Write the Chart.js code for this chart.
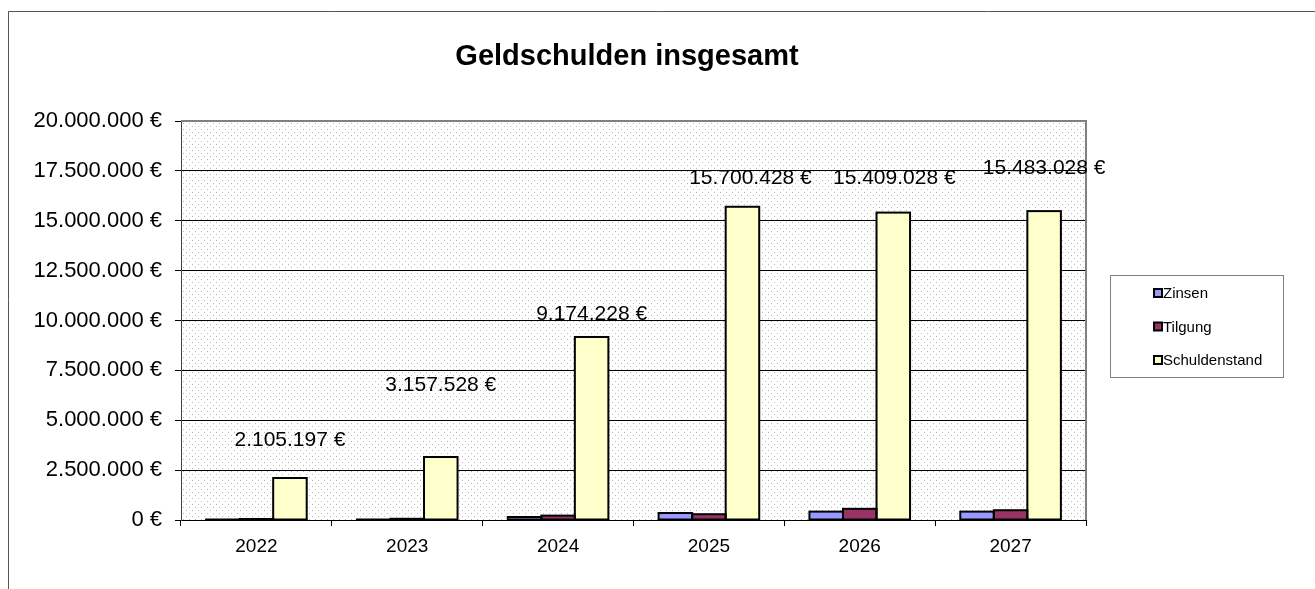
<!DOCTYPE html>
<html>
<head>
<meta charset="utf-8">
<script src="https://cdn.jsdelivr.net/npm/chart.js@4.4.0/dist/chart.umd.min.js"></script>
<style>
  html, body { margin: 0; padding: 0; background: #fff; }
  #wrap { width: 1315px; height: 589px; position: relative; }
</style>
</head>
<body>
<div id="wrap"><canvas id="myChart" width="1315" height="589"></canvas></div>
<script>
const years = ['2022', '2023', '2024', '2025', '2026', '2027'];
const zinsen = [15000, 20000, 150000, 350000, 420000, 420000];
const tilgung = [50000, 60000, 220000, 290000, 560000, 490000];
const schuldenstand = [2105197, 3157528, 9174228, 15700428, 15409028, 15483028];
const yTicks = [0, 2500000, 5000000, 7500000, 10000000, 12500000, 15000000, 17500000, 20000000];
// how far each value label sits above its bar (labels were moved by hand in the original)
const labelLift = [38, 72, 23, 29, 34, 43];
const labelShift = [0, 0, 0, 8, 1, 0];

const fontName = '"Liberation Sans", Arial, sans-serif';

function euro(v) {
    return v.toLocaleString('de-DE') + ' €';
}

function dotPattern(ctx) {
    const c = document.createElement('canvas');
    c.width = 6; c.height = 6;
    const p = c.getContext('2d');
    p.fillStyle = '#ffffff';
    p.fillRect(0, 0, 6, 6);
    p.fillStyle = '#b8b8b8';
    p.fillRect(0, 0, 1, 1);
    p.fillRect(3, 3, 1, 1);
    return ctx.createPattern(c, 'repeat');
}

const decorPlugin = {
    id: 'decor',
    beforeDraw(chart) {
        const ctx = chart.ctx;
        const a = chart.chartArea;
        ctx.save();
        // outer frame
        ctx.strokeStyle = '#555';
        ctx.lineWidth = 1;
        ctx.beginPath();
        ctx.moveTo(8.5, 589);
        ctx.lineTo(8.5, 11.5);
        ctx.lineTo(1315, 11.5);
        ctx.stroke();
        // plot background
        ctx.fillStyle = dotPattern(ctx);
        ctx.fillRect(a.left, a.top, a.right - a.left, a.bottom - a.top);
        // title
        ctx.fillStyle = '#000';
        ctx.font = 'bold 29px ' + fontName;
        ctx.textAlign = 'center';
        ctx.textBaseline = 'middle';
        ctx.fillText('Geldschulden insgesamt', 627, 57);
        ctx.restore();
    },
    afterDatasetsDraw(chart) {
        const ctx = chart.ctx;
        const a = chart.chartArea;
        ctx.save();
        // excel style outlines: 2px centred on the bar edges
        ctx.strokeStyle = '#000';
        ctx.lineWidth = 2;
        chart.data.datasets.forEach((ds, di) => {
            chart.getDatasetMeta(di).data.forEach(bar => {
                const left = bar.x - bar.width / 2;
                ctx.strokeRect(left, bar.y, bar.width, bar.base - bar.y);
            });
        });
        // plot border top / right
        ctx.strokeStyle = '#808080';
        ctx.lineWidth = 2;
        ctx.beginPath();
        ctx.moveTo(a.left, a.top);
        ctx.lineTo(a.right, a.top);
        ctx.lineTo(a.right, a.bottom);
        ctx.stroke();
        // value labels for Schuldenstand
        const meta = chart.getDatasetMeta(2);
        ctx.fillStyle = '#000';
        ctx.font = '21px ' + fontName;
        ctx.textAlign = 'center';
        ctx.textBaseline = 'middle';
        meta.data.forEach((bar, i) => {
            ctx.fillText(euro(schuldenstand[i]), bar.x + labelShift[i], bar.y - labelLift[i]);
        });
        // legend
        ctx.strokeStyle = '#808080';
        ctx.lineWidth = 1;
        ctx.fillStyle = '#fff';
        ctx.fillRect(1110.5, 275.5, 173, 102);
        ctx.strokeRect(1110.5, 275.5, 173, 102);
        ctx.font = '15px ' + fontName;
        ctx.textAlign = 'left';
        chart.data.datasets.forEach((ds, i) => {
            const y = 293 + i * 33.5;
            ctx.fillStyle = '#000';
            ctx.fillRect(1153, y - 5, 10, 10);
            ctx.fillStyle = ds.backgroundColor;
            ctx.fillRect(1155, y - 3, 6, 6);
            ctx.fillStyle = '#000';
            ctx.fillText(ds.label, 1163, y + 1);
        });
        ctx.restore();
    }
};

const data = {
    labels: years,
    datasets: [
        { label: 'Zinsen', data: zinsen, backgroundColor: '#9999FF' },
        { label: 'Tilgung', data: tilgung, backgroundColor: '#993366' },
        { label: 'Schuldenstand', data: schuldenstand, backgroundColor: '#FFFFCC' }
    ]
};
data.datasets.forEach(ds => {
    ds.borderWidth = 0;
    ds.inflateAmount = 0;
    ds.categoryPercentage = 0.667;
    ds.barPercentage = 1.0;
});

const config = {
    type: 'bar',
    data: data,
    options: {
        responsive: false,
        animation: false,
        devicePixelRatio: 1,
        layout: { padding: { left: 0, right: 229, top: 121, bottom: 28 } },
        plugins: {
            legend: { display: false },
            title: { display: false },
            tooltip: { enabled: false }
        },
        scales: {
            x: {
                afterFit(scale) { scale.height = 41; },
                grid: { drawOnChartArea: false, offset: true, color: '#000', tickColor: '#000', tickLength: 6 },
                border: { color: '#000', width: 1 },
                ticks: { color: '#000', font: { family: fontName, size: 19 }, padding: 9 }
            },
            y: {
                min: 0,
                max: 20000000,
                afterFit(scale) { scale.width = 181; },
                afterBuildTicks(scale) { scale.ticks = yTicks.map(v => ({ value: v })); },
                grid: { color: '#000', tickColor: '#000', tickLength: 6, lineWidth: 1 },
                border: { color: '#404040', width: 1 },
                ticks: {
                    color: '#000',
                    font: { family: fontName, size: 22 },
                    padding: 13,
                    callback: v => euro(v)
                }
            }
        }
    },
    plugins: [decorPlugin]
};

new Chart(document.getElementById('myChart'), config);
</script>
</body>
</html>
